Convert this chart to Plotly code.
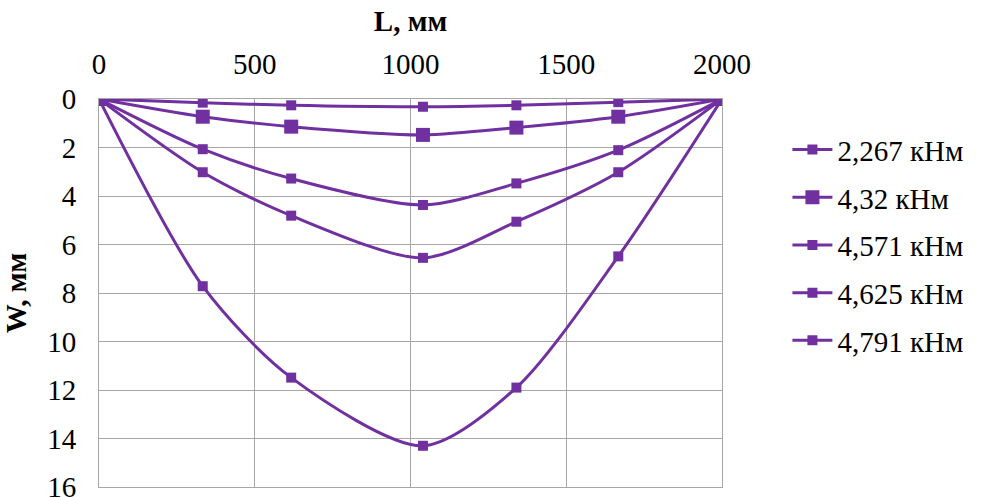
import plotly.graph_objects as go

L_mm = [0, 333, 617, 1040, 1340, 1667, 2000]
series_names = ["2,267 кНм", "4,32 кНм", "4,571 кНм", "4,625 кНм", "4,791 кНм"]
w_2267 = [0, 0.15, 0.26, 0.32, 0.26, 0.13, 0]
w_432 = [0, 0.73, 1.14, 1.48, 1.18, 0.73, 0]
w_4571 = [0, 2.07, 3.28, 4.37, 3.48, 2.11, 0]
w_4625 = [0, 3.02, 4.81, 6.55, 5.06, 3.02, 0]
w_4791 = [0, 7.72, 11.49, 14.3, 11.9, 6.49, 0]
all_w = [w_2267, w_432, w_4571, w_4625, w_4791]
marker_sizes = [10, 14, 10, 10, 10]

color = "#7030A0"
font_family = "Liberation Serif, Times New Roman, serif"
fs = 29

fig = go.Figure()
for i, (name, w, ms) in enumerate(zip(series_names, all_w, marker_sizes)):
    fig.add_trace(go.Scatter(
        x=L_mm, y=w, name=name, mode="lines+markers", legendgroup=f"g{i}",
        line=dict(color=color, width=3, shape="spline", smoothing=0.8),
        marker=dict(symbol="square", size=ms, color=color),
    ))

fig.update_layout(
    width=984, height=497,
    margin=dict(l=99, r=262, t=99, b=10, autoexpand=False),
    paper_bgcolor="white", plot_bgcolor="white",
    font=dict(family=font_family, size=fs, color="black"),
    showlegend=True,
    legend=dict(x=1.105, y=0.935, xanchor="left", yanchor="top",
                font=dict(family=font_family, size=fs),
                tracegroupgap=7, itemwidth=40),
)
fig.update_xaxes(
    side="top", range=[0, 2000], tickvals=[0, 500, 1000, 1500, 2000],
    showgrid=True, gridcolor="#A6A6A6", gridwidth=1,
    showline=True, linecolor="#A6A6A6", mirror=True,
    zeroline=False, ticks="", ticklabelstandoff=12,
    tickfont=dict(family=font_family, size=fs),
    title=dict(text="<b>L, мм</b>", font=dict(family=font_family, size=fs), standoff=8),
)
fig.update_yaxes(
    range=[16, 0], tickvals=[0, 2, 4, 6, 8, 10, 12, 14, 16],
    showgrid=True, gridcolor="#A6A6A6", gridwidth=1,
    showline=True, linecolor="#A6A6A6", mirror=True,
    zeroline=False, ticks="", ticklabelstandoff=16,
    ticklabeloverflow="allow",
    tickfont=dict(family=font_family, size=fs),
    title=dict(text="<b>W, мм</b>", font=dict(family=font_family, size=fs), standoff=12),
)

fig.write_html("out.html")
